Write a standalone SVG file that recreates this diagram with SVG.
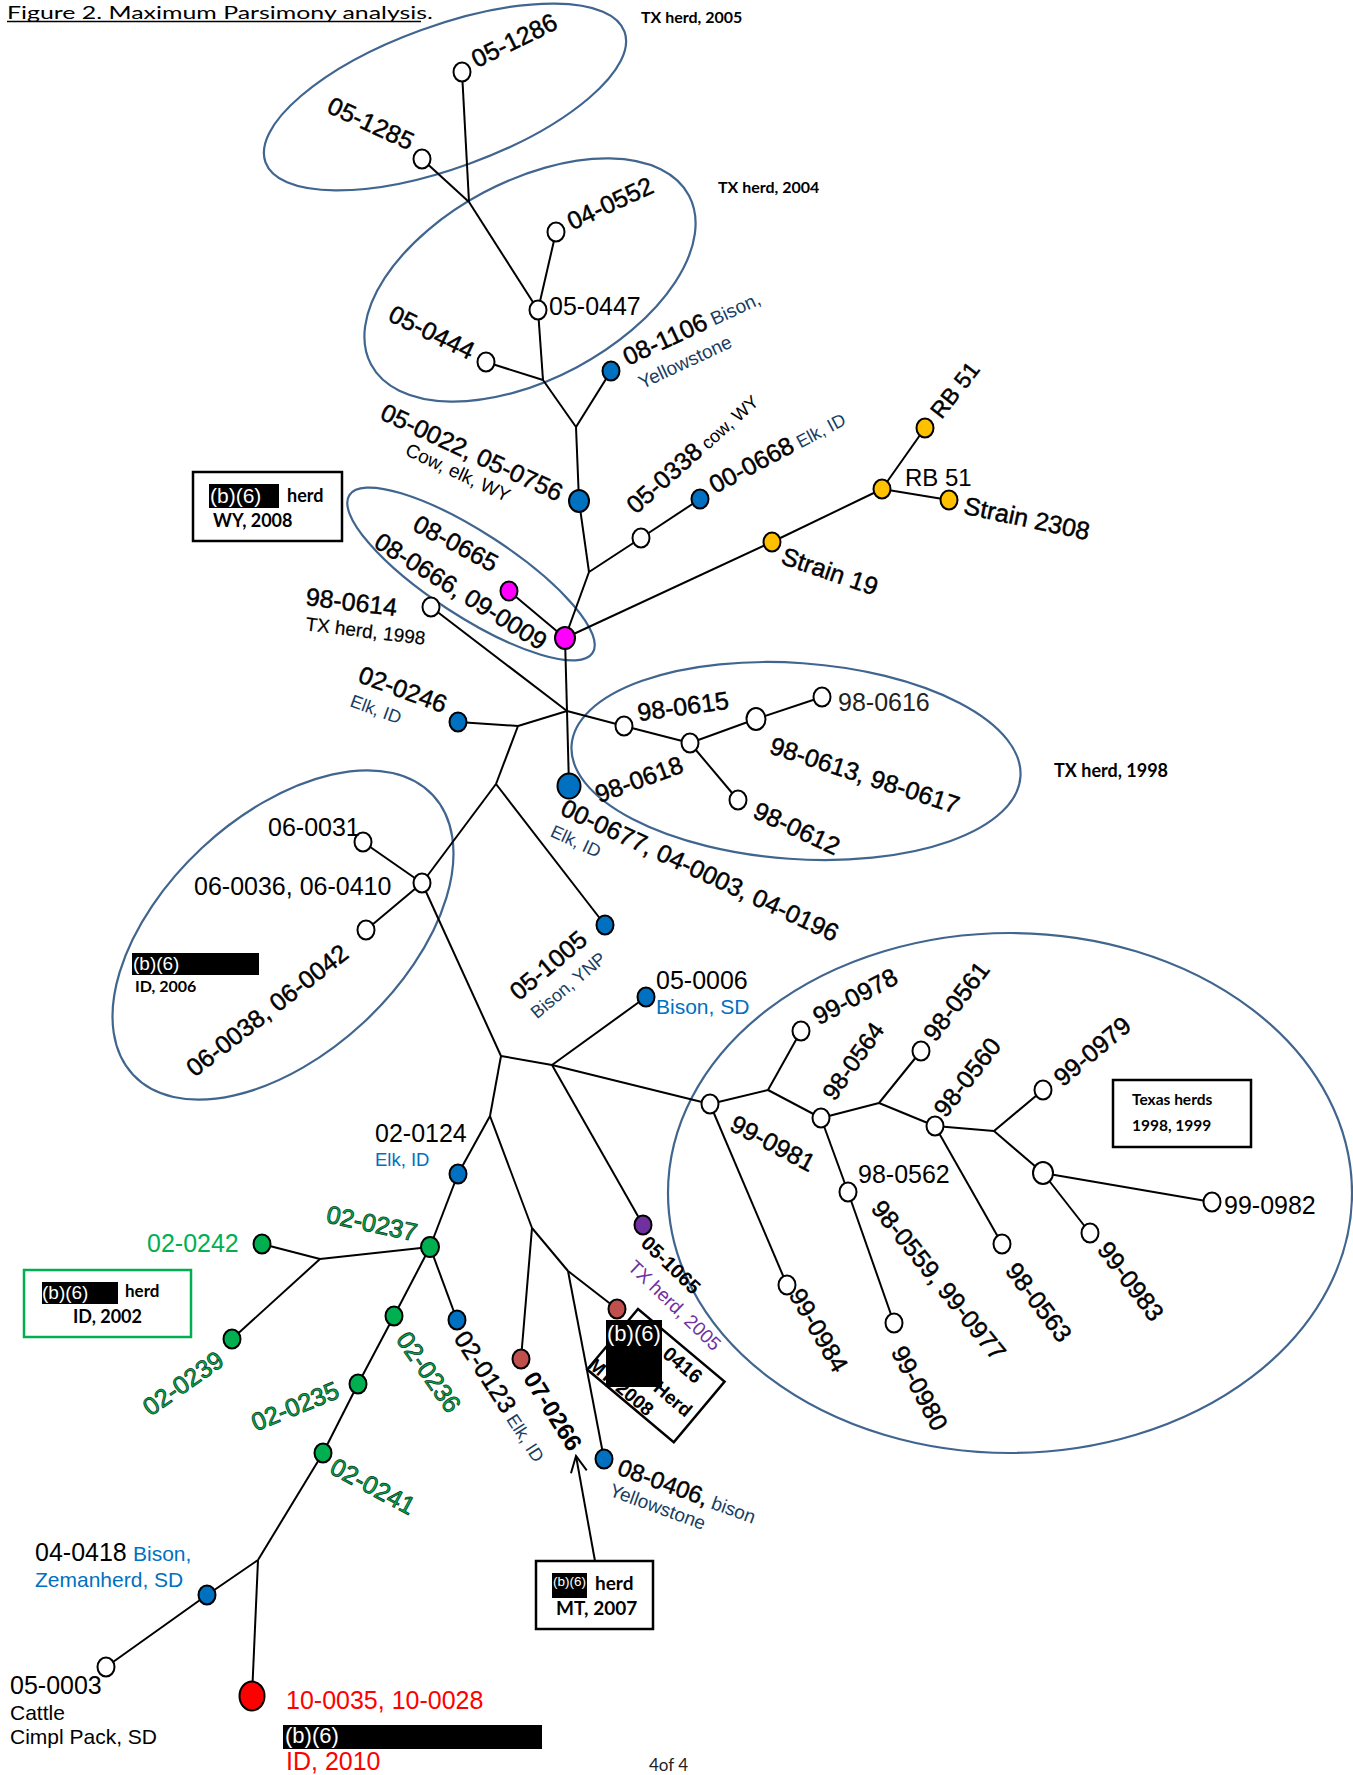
<svg xmlns="http://www.w3.org/2000/svg" width="1353" height="1775" viewBox="0 0 1353 1775">
<style>
.e{fill:none;stroke:#000;stroke-width:2}
.hl{fill:none;stroke:#40658f;stroke-width:2.2}
.n{stroke:#000;stroke-width:2}
.w{fill:#fff}.b{fill:#0070c0}.m{fill:#ff00ff}.y{fill:#ffc000}.g{fill:#00b050}.r{fill:#c0504d}.p{fill:#7030a0}.rr{fill:#ff0000}
text{font-family:"Liberation Sans",Arial,sans-serif}
.t{font-size:25px;fill:#000}
.h{stroke:#000;stroke-width:0.45}
.c{text-anchor:middle}
.s{font-size:18px}
.db{fill:#183d63;stroke:none}
.lb{fill:#0070c0}
.gr{fill:#00b050;stroke:#0b3d1f;stroke-width:0.8}
.gt{fill:#00b050}
.k{font-family:Lato,"Liberation Sans",sans-serif;font-weight:bold;fill:#000}
.red{fill:#ff0000}
.box{fill:#fff;stroke:#000;stroke-width:2.5}
.bk{fill:#000}
.wt{fill:#fff}
.bd{font-weight:bold}
</style>
<defs>
<marker id="open" markerWidth="20" markerHeight="20" refX="17" refY="9" orient="auto" markerUnits="userSpaceOnUse">
<path d="M1,1 L17,9 L1,17" fill="none" stroke="#000" stroke-width="2"/>
</marker>
</defs>
<rect width="1353" height="1775" fill="#fff"/>

<g id="title">
<text x="7" y="19" style="font-family:Lato,'Liberation Sans',sans-serif;font-size:18px" textLength="426" lengthAdjust="spacingAndGlyphs">Figure 2. Maximum Parsimony analysis.</text>
<line x1="7" y1="21.5" x2="421" y2="21.5" stroke="#000" stroke-width="1.4"/>
</g>

<g id="groups">
<ellipse class="hl" cx="445" cy="97" rx="191" ry="71" transform="rotate(-20 445 97)"/>
<ellipse class="hl" cx="530" cy="280" rx="180" ry="99" transform="rotate(-28 530 280)"/>
<ellipse class="hl" cx="471" cy="574" rx="145" ry="42" transform="rotate(33 471 574)"/>
<ellipse class="hl" cx="796" cy="761" rx="225" ry="98" transform="rotate(4 796 761)"/>
<ellipse class="hl" cx="283" cy="935" rx="205" ry="119" transform="rotate(-43 283 935)"/>
<ellipse class="hl" cx="1010" cy="1193" rx="342" ry="260"/>
<text class="k" x="641" y="23" style="font-size:16px">TX herd, 2005</text>
<text class="k" x="718" y="193" style="font-size:16px">TX herd, 2004</text>
<text class="k" x="1054" y="777" style="font-size:18px">TX herd, 1998</text>
</g>

<g id="edges">
<path class="e" d="M462,72 L469,202"/>
<path class="e" d="M422,159 L469,202"/>
<path class="e" d="M469,202 L538,310"/>
<path class="e" d="M556,232 L538,310"/>
<path class="e" d="M538,310 L543,380"/>
<path class="e" d="M486,362 L543,380"/>
<path class="e" d="M543,380 L576,427"/>
<path class="e" d="M576,427 L611,371"/>
<path class="e" d="M576,427 L579,501"/>
<path class="e" d="M579,501 L589,572"/>
<path class="e" d="M589,572 L641,538"/>
<path class="e" d="M641,538 L700,499"/>
<path class="e" d="M589,572 L565,638"/>
<path class="e" d="M509,591 L565,638"/>
<path class="e" d="M565,638 L772,542"/>
<path class="e" d="M772,542 L882,489"/>
<path class="e" d="M882,489 L925,428"/>
<path class="e" d="M882,489 L949,500"/>
<path class="e" d="M565,638 L567,711"/>
<path class="e" d="M567,711 L569,786"/>
<path class="e" d="M431,607 L567,711"/>
<path class="e" d="M567,711 L624,726"/>
<path class="e" d="M567,711 L518,726"/>
<path class="e" d="M518,726 L458,722"/>
<path class="e" d="M518,726 L496,784"/>
<path class="e" d="M496,784 L422,883"/>
<path class="e" d="M496,784 L605,925"/>
<path class="e" d="M624,726 L690,743"/>
<path class="e" d="M690,743 L756,719"/>
<path class="e" d="M756,719 L822,697"/>
<path class="e" d="M690,743 L738,800"/>
<path class="e" d="M363,842 L422,883"/>
<path class="e" d="M366,930 L422,883"/>
<path class="e" d="M422,883 L501,1056"/>
<path class="e" d="M501,1056 L552,1065"/>
<path class="e" d="M552,1065 L646,997"/>
<path class="e" d="M552,1065 L710,1104"/>
<path class="e" d="M552,1065 L643,1225"/>
<path class="e" d="M501,1056 L490,1116"/>
<path class="e" d="M490,1116 L458,1174"/>
<path class="e" d="M490,1116 L532,1228"/>
<path class="e" d="M532,1228 L521,1359"/>
<path class="e" d="M532,1228 L568,1271"/>
<path class="e" d="M568,1271 L617,1309"/>
<path class="e" d="M568,1271 L604,1459"/>
<path class="e" d="M710,1104 L787,1285"/>
<path class="e" d="M710,1104 L768,1090"/>
<path class="e" d="M768,1090 L801,1031"/>
<path class="e" d="M768,1090 L821,1118"/>
<path class="e" d="M821,1118 L848,1192"/>
<path class="e" d="M848,1192 L894,1323"/>
<path class="e" d="M821,1118 L879,1103"/>
<path class="e" d="M879,1103 L921,1051"/>
<path class="e" d="M879,1103 L935,1126"/>
<path class="e" d="M935,1126 L994,1131"/>
<path class="e" d="M935,1126 L1002,1244"/>
<path class="e" d="M994,1131 L1043,1090"/>
<path class="e" d="M994,1131 L1043,1173"/>
<path class="e" d="M1043,1173 L1212,1202"/>
<path class="e" d="M1043,1173 L1090,1233"/>
<path class="e" d="M458,1174 L430,1247"/>
<path class="e" d="M430,1247 L320,1259"/>
<path class="e" d="M320,1259 L262,1244"/>
<path class="e" d="M320,1259 L232,1339"/>
<path class="e" d="M430,1247 L394,1316"/>
<path class="e" d="M430,1247 L457,1320"/>
<path class="e" d="M394,1316 L358,1384"/>
<path class="e" d="M358,1384 L323,1453"/>
<path class="e" d="M323,1453 L258,1560"/>
<path class="e" d="M258,1560 L207,1595"/>
<path class="e" d="M207,1595 L106,1667"/>
<path class="e" d="M258,1560 L252,1696"/>
<path class="e" d="M595,1561 L576,1456" marker-end="url(#open)"/>
</g>

<g id="n-05-1286"><ellipse class="n w" cx="462" cy="72" rx="8.5" ry="9.5"/><text class="t c h" transform="translate(514,40) rotate(-26)" y="9">05-1286</text></g>
<g id="n-05-1285"><ellipse class="n w" cx="422" cy="159" rx="8.5" ry="9.5"/><text class="t c h" transform="translate(371,123) rotate(25)" y="9">05-1285</text></g>
<g id="n-04-0552"><ellipse class="n w" cx="556" cy="232" rx="8.5" ry="9.5"/><text class="t c h" transform="translate(610,203) rotate(-25)" y="9">04-0552</text></g>
<g id="n-05-0447"><ellipse class="n w" cx="538" cy="310" rx="8.5" ry="9.5"/><text class="t" x="549" y="315">05-0447</text></g>
<g id="n-05-0444"><ellipse class="n w" cx="486" cy="362" rx="8.5" ry="9.5"/><text class="t c h" transform="translate(432,332) rotate(26)" y="9">05-0444</text></g>
<g id="n-08-1106"><ellipse class="n b" cx="611" cy="371" rx="8.5" ry="9.5"/><text class="t h" transform="translate(628,366) rotate(-25)">08-1106<tspan class="s db" style="font-size:19px"> Bison,</tspan><tspan class="s db" style="font-size:19px" x="3" y="27">Yellowstone</tspan></text></g>
<g id="n-05-0022"><ellipse class="n b" cx="579" cy="501" rx="10" ry="11"/><text class="t c h" transform="translate(472,452) rotate(25)" y="9">05-0022, 05-0756</text><text class="c" style="font-size:19px" transform="translate(472,452) rotate(25)" x="-4" y="31">Cow, elk, WY</text></g>
<g id="n-05-0338"><ellipse class="n w" cx="641" cy="538" rx="8.5" ry="9.5"/><text class="t h" transform="translate(636,515) rotate(-42)">05-0338<tspan class="s" style="stroke:none"> cow, WY</tspan></text></g>
<g id="n-00-0668"><ellipse class="n b" cx="700" cy="499" rx="8.5" ry="9.5"/><text class="t h" transform="translate(715,494) rotate(-28)">00-0668<tspan class="s db"> Elk, ID</tspan></text></g>
<g id="n-rb51"><ellipse class="n y" cx="925" cy="428" rx="8.5" ry="9.5"/><text class="t c h" style="font-size:23px" transform="translate(955,390) rotate(-52)" y="8">RB 51</text></g>
<g id="n-rb51-j"><ellipse class="n y" cx="882" cy="489" rx="8.5" ry="9.5"/><text class="t" style="font-size:24px" x="905" y="486">RB 51</text></g>
<g id="n-strain2308"><ellipse class="n y" cx="949" cy="500" rx="8.5" ry="9.5"/><text class="t c h" transform="translate(1027,518) rotate(12)" y="9">Strain 2308</text></g>
<g id="n-strain19"><ellipse class="n y" cx="772" cy="542" rx="8.5" ry="9.5"/><text class="t c h" transform="translate(830,571) rotate(19)" y="9">Strain 19</text></g>
<g id="n-08-0665"><ellipse class="n m" cx="509" cy="591" rx="8.5" ry="9.5"/><text class="t c h" transform="translate(456,543) rotate(28)" y="9">08-0665</text></g>
<g id="n-08-0666"><ellipse class="n m" cx="565" cy="638" rx="10" ry="11"/><text class="t c h" transform="translate(461,591) rotate(32)" y="9">08-0666, 09-0009</text></g>
<g id="n-98-0614"><ellipse class="n w" cx="431" cy="607" rx="8.5" ry="9.5"/><text class="t h" transform="translate(305,605) rotate(7)">98-0614<tspan x="3" y="25" style="font-size:19px;stroke-width:0.2">TX herd, 1998</tspan></text></g>
<g id="n-02-0246"><ellipse class="n b" cx="458" cy="722" rx="8.5" ry="9.5"/><text class="t c h" transform="translate(403,689) rotate(20)" y="9">02-0246</text><text class="s db c" transform="translate(376,709) rotate(20)" y="6.5">Elk, ID</text></g>
<g id="n-00-0677"><ellipse class="n b" cx="569" cy="786" rx="11.5" ry="12.5"/><text class="t c h" transform="translate(700,870) rotate(25)" y="9">00-0677, 04-0003, 04-0196</text><text class="s db c" transform="translate(576,841) rotate(25)" y="6.5">Elk, ID</text></g>
<g id="n-98-0615"><ellipse class="n w" cx="624" cy="726" rx="8.5" ry="9.5"/><text class="t c h" transform="translate(683,706) rotate(-8)" y="9">98-0615</text></g>
<g id="n-98-0618"><ellipse class="n w" cx="690" cy="743" rx="8.5" ry="9.5"/><text class="t c h" transform="translate(639,779) rotate(-20)" y="9">98-0618</text></g>
<g id="n-98-0613"><ellipse class="n w" cx="756" cy="719" rx="9.5" ry="11"/><text class="t c h" transform="translate(865,775) rotate(18)" y="9">98-0613, 98-0617</text></g>
<g id="n-98-0616"><ellipse class="n w" cx="822" cy="697" rx="8.5" ry="9.5"/><text class="t" style="fill:#222" x="838" y="711">98-0616</text></g>
<g id="n-98-0612"><ellipse class="n w" cx="738" cy="800" rx="8.5" ry="9.5"/><text class="t c h" transform="translate(797,828) rotate(25)" y="9">98-0612</text></g>
<g id="n-06-0031"><ellipse class="n w" cx="363" cy="842" rx="8.5" ry="9.5"/><text class="t" x="268" y="836">06-0031</text></g>
<g id="n-06-0036"><ellipse class="n w" cx="422" cy="883" rx="8.5" ry="9.5"/><text class="t" x="194" y="895">06-0036, 06-0410</text></g>
<g id="n-06-0038"><ellipse class="n w" cx="366" cy="930" rx="8.5" ry="9.5"/><text class="t c h" transform="translate(267,1010) rotate(-38)" y="9">06-0038, 06-0042</text></g>
<g id="n-05-1005"><ellipse class="n b" cx="605" cy="925" rx="8.5" ry="9.5"/><text class="t c h" transform="translate(548,965) rotate(-40)" y="9">05-1005</text><text class="s db c" transform="translate(568,985) rotate(-40)" y="6.5">Bison, YNP</text></g>
<g id="n-05-0006"><ellipse class="n b" cx="646" cy="997" rx="8.5" ry="9.5"/><text class="t" x="656" y="989">05-0006</text><text class="lb" style="font-size:21px" x="656" y="1014">Bison, SD</text></g>
<g id="n-99-0981"><ellipse class="n w" cx="710" cy="1104" rx="8.5" ry="9.5"/><text class="t c h" transform="translate(773,1143) rotate(28)" y="9">99-0981</text></g>
<g id="n-05-1065"><ellipse class="n p" cx="643" cy="1225" rx="8.5" ry="9.5"/><text class="bd c" style="font-size:20px" transform="translate(671,1265) rotate(44)" y="7">05-1065</text><text class="c" style="font-size:19px;fill:#7030a0" transform="translate(675,1305) rotate(44)" y="7">TX herd, 2005</text></g>
<g id="n-02-0124"><ellipse class="n b" cx="458" cy="1174" rx="8.5" ry="9.5"/><text class="t" x="375" y="1142">02-0124</text><text class="lb" style="font-size:18.5px" x="375" y="1166">Elk, ID</text></g>
<g id="n-07-0266"><ellipse class="n r" cx="521" cy="1359" rx="8.5" ry="9.5"/><text class="bd c" style="font-size:24px" transform="translate(553,1411) rotate(58)" y="8.5">07-0266</text></g>
<g id="n-08-0416"><ellipse class="n r" cx="617" cy="1309" rx="8.5" ry="9.5"/></g>
<g id="n-08-0406"><ellipse class="n b" cx="604" cy="1459" rx="8.5" ry="9.5"/><text class="t h" style="font-size:24px" transform="translate(616,1474) rotate(20)">08-0406,<tspan class="s db" style="font-size:19px"> bison</tspan><tspan class="s db" style="font-size:19px" x="0" y="23">Yellowstone</tspan></text></g>
<g id="n-99-0984"><ellipse class="n w" cx="787" cy="1285" rx="8.5" ry="9.5"/><text class="t c h" transform="translate(819,1330) rotate(60)" y="9">99-0984</text></g>
<g id="n-99-0978"><ellipse class="n w" cx="801" cy="1031" rx="8.5" ry="9.5"/><text class="t c h" transform="translate(855,996) rotate(-28)" y="9">99-0978</text></g>
<g id="n-98-0564"><ellipse class="n w" cx="821" cy="1118" rx="8.5" ry="9.5"/><text class="t c h" style="font-size:24px" transform="translate(853,1061) rotate(-55)" y="8.5">98-0564</text></g>
<g id="n-98-0562"><ellipse class="n w" cx="848" cy="1192" rx="8.5" ry="9.5"/><text class="t" x="858" y="1183">98-0562</text><text class="t c h" transform="translate(939,1280) rotate(51)" y="9">98-0559, 99-0977</text></g>
<g id="n-98-0559"><ellipse class="n w" cx="894" cy="1323" rx="8.5" ry="9.5"/><text class="t c h" transform="translate(920,1388) rotate(62)" y="9">99-0980</text></g>
<g id="n-98-0561"><ellipse class="n w" cx="921" cy="1051" rx="8.5" ry="9.5"/><text class="t c h" transform="translate(956,1001) rotate(-53)" y="9">98-0561</text></g>
<g id="n-98-0560"><ellipse class="n w" cx="935" cy="1126" rx="8.5" ry="9.5"/><text class="t c h" transform="translate(967,1077) rotate(-52)" y="9">98-0560</text></g>
<g id="n-98-0563"><ellipse class="n w" cx="1002" cy="1244" rx="8.5" ry="9.5"/><text class="t c h" transform="translate(1039,1302) rotate(53)" y="9">98-0563</text></g>
<g id="n-99-0979"><ellipse class="n w" cx="1043" cy="1090" rx="8.5" ry="9.5"/><text class="t c h" transform="translate(1092,1051) rotate(-40)" y="9">99-0979</text></g>
<g id="n-99-j"><ellipse class="n w" cx="1043" cy="1173" rx="10" ry="11"/></g>
<g id="n-99-0982"><ellipse class="n w" cx="1212" cy="1202" rx="8.5" ry="9.5"/><text class="t" x="1224" y="1214">99-0982</text></g>
<g id="n-99-0983"><ellipse class="n w" cx="1090" cy="1233" rx="8.5" ry="9.5"/><text class="t c h" transform="translate(1131,1281) rotate(53)" y="9">99-0983</text></g>
<g id="n-02-0237"><ellipse class="n g" cx="430" cy="1247" rx="9" ry="10"/><text class="t c gr" transform="translate(372,1223) rotate(12)" y="9">02-0237</text></g>
<g id="n-02-0242"><ellipse class="n g" cx="262" cy="1244" rx="8.5" ry="9.5"/><text class="t gt" x="147" y="1252">02-0242</text></g>
<g id="n-02-0239"><ellipse class="n g" cx="232" cy="1339" rx="8.5" ry="9.5"/><text class="t c gr" transform="translate(183,1383) rotate(-35)" y="9">02-0239</text></g>
<g id="n-02-0236"><ellipse class="n g" cx="394" cy="1316" rx="8.5" ry="9.5"/><text class="t c gr" transform="translate(429,1372) rotate(55)" y="9">02-0236</text></g>
<g id="n-02-0123"><ellipse class="n b" cx="457" cy="1320" rx="8.5" ry="9.5"/><text class="t h" transform="translate(453,1338) rotate(57)">02-0123<tspan class="s db"> Elk, ID</tspan></text></g>
<g id="n-02-0235"><ellipse class="n g" cx="358" cy="1384" rx="8.5" ry="9.5"/><text class="t c gr" transform="translate(295,1406) rotate(-22)" y="9">02-0235</text></g>
<g id="n-02-0241"><ellipse class="n g" cx="323" cy="1453" rx="8.5" ry="9.5"/><text class="t c gr" transform="translate(373,1486) rotate(28)" y="9">02-0241</text></g>
<g id="n-04-0418"><ellipse class="n b" cx="207" cy="1595" rx="8.5" ry="9.5"/><text class="t" x="35" y="1561">04-0418<tspan class="lb" style="font-size:21px" x="133">Bison,</tspan></text><text class="lb" style="font-size:21px" x="35" y="1587">Zemanherd, SD</text></g>
<g id="n-05-0003"><ellipse class="n w" cx="106" cy="1667" rx="8.5" ry="9.5"/><text class="t" x="10" y="1694">05-0003</text><text style="font-size:21px" x="10" y="1720">Cattle</text><text style="font-size:21px" x="10" y="1744">Cimpl Pack, SD</text></g>
<g id="n-10-0035"><ellipse class="n rr" cx="252" cy="1696" rx="12.5" ry="14.5"/><text class="t red" x="286" y="1709">10-0035, 10-0028</text><rect class="bk" x="283" y="1725" width="259" height="24"/><text class="wt" style="font-size:22px" x="285" y="1743">(b)(6)</text><text class="t red" x="286" y="1770">ID, 2010</text></g>

<g id="box-wy2008"><rect class="box" x="193" y="472" width="149" height="69"/><rect class="bk" x="209" y="484" width="70" height="24"/><text class="wt" style="font-size:21px" x="210" y="503">(b)(6)</text><text class="k" style="font-size:18px" x="287" y="502">herd</text><text class="k" style="font-size:18px" x="213" y="527">WY, 2008</text></g>
<g id="box-texas"><rect class="box" x="1113" y="1080" width="138" height="67"/><text class="k" style="font-size:15.5px" x="1132" y="1105">Texas herds</text><text class="k" style="font-size:15.5px" x="1132" y="1131">1998, 1999</text></g>
<g id="box-id2006"><rect class="bk" x="132" y="953" width="127" height="22"/><text class="wt" style="font-size:19px" x="133" y="970">(b)(6)</text><text class="k" style="font-size:16px" x="135" y="992">ID, 2006</text></g>
<g id="box-id2002"><rect x="24" y="1270" width="167" height="67" fill="#fff" stroke="#00b050" stroke-width="2.5"/><rect class="bk" x="42" y="1282" width="76" height="22"/><text class="wt" style="font-size:19px" x="42" y="1299">(b)(6)</text><text class="k" style="font-size:17px" x="125" y="1297">herd</text><text class="k" style="font-size:18px" x="73" y="1323">ID, 2002</text></g>
<g id="box-mt2007"><rect class="box" x="536" y="1561" width="117" height="68"/><rect class="bk" x="552" y="1573" width="35" height="25"/><text class="wt" style="font-size:13.5px" x="553" y="1586">(b)(6)</text><text class="k" style="font-size:19px" x="595" y="1590">herd</text><text class="k" style="font-size:19px" x="556" y="1615">MT, 2007</text></g>
<g id="box-mt2008"><g transform="translate(638,1309) rotate(40)"><rect class="box" x="0" y="0" width="113" height="79"/><text class="bd" style="font-size:20px" x="48" y="21">0416</text><text class="bd" style="font-size:19px" x="63" y="53">Herd</text><text class="bd" style="font-size:19px" x="-2" y="77">MT, 2008</text></g><rect class="bk" x="606" y="1320" width="56" height="67"/><text class="wt" style="font-size:22px" x="607" y="1341">(b)(6)</text></g>

<g id="page"><text style="font-family:Lato,'Liberation Sans',sans-serif;font-size:17px;fill:#222" x="649" y="1771">4of 4</text></g>
</svg>
